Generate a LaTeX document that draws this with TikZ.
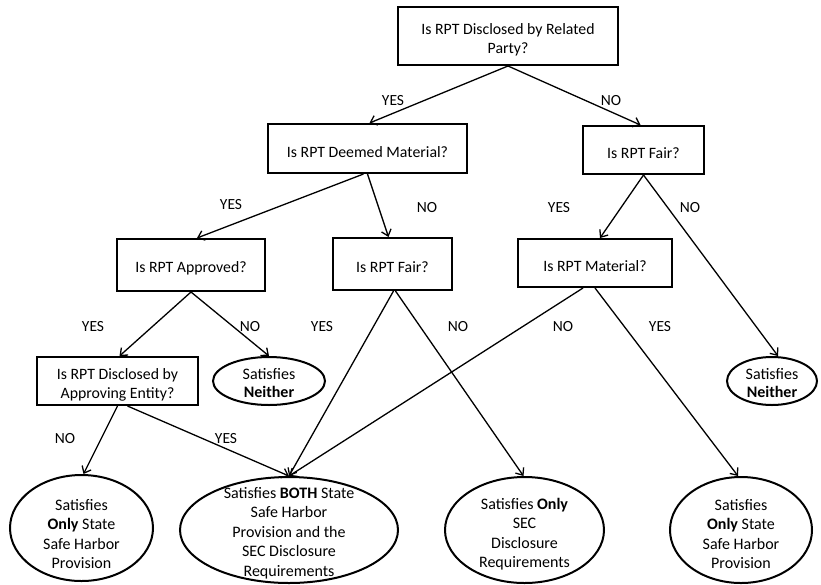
\documentclass[tikz,border=0pt]{standalone}
\usepackage{fontspec}
\setmainfont{Carlito}
\usetikzlibrary{arrows.meta,shapes.geometric}
\tikzset{
  qbox/.style={draw, line width=2pt, rectangle, inner sep=0pt},
  qtxt/.style={align=center, inner sep=0pt, font=\fontsize{15.8}{18.5}\selectfont},
  ell/.style={draw, line width=2pt, ellipse, inner sep=0pt},
  etxt/.style={align=center, inner sep=0pt, font=\fontsize{16}{19.5}\selectfont},
  conn/.style={line width=1.3pt, -{Straight Barb[length=6pt,width=10pt,line width=1.3pt]}},
  lbl/.style={inner sep=0pt, font=\fontsize{15.5}{17}\selectfont}
}
\begin{document}
\begin{tikzpicture}[x=1pt,y=-1pt]
\useasboundingbox (0,0) rectangle (821,584);
% question boxes
\node[qbox, minimum width=220pt, minimum height=58pt] (top) at (508,36) {};
\node[qtxt] (topt) at ([yshift=-4pt]top.center) {Is RPT Disclosed by Related\\Party?};
\node[qbox, minimum width=199pt, minimum height=49pt] (deemed) at (367.5,148.5) {};
\node[qtxt] (deemedt) at ([yshift=-4pt]deemed.center) {Is RPT Deemed Material?};
\node[qbox, minimum width=121pt, minimum height=48pt] (fairR) at (643.5,150) {};
\node[qtxt] (fairRt) at ([yshift=-3pt]fairR.center) {Is RPT Fair?};
\node[qbox, minimum width=148pt, minimum height=52pt] (approved) at (191,265) {};
\node[qtxt] (approvedt) at ([yshift=-3pt]approved.center) {Is RPT Approved?};
\node[qbox, minimum width=119pt, minimum height=52pt] (fairM) at (392.5,264) {};
\node[qtxt] (fairMt) at ([yshift=-3pt]fairM.center) {Is RPT Fair?};
\node[qbox, minimum width=154pt, minimum height=48pt] (material) at (595,263) {};
\node[qtxt] (materialt) at ([yshift=-3pt]material.center) {Is RPT Material?};
\node[qbox, minimum width=161pt, minimum height=48pt] (approving) at (117.5,381) {};
\node[qtxt] (approvingt) at ([yshift=-4pt]approving.center) {Is RPT Disclosed by\\Approving Entity?};
% outcome ellipses
\node[ell, minimum width=112pt, minimum height=48pt] (neitherL) at (269,381) {};
\node[etxt, font=\fontsize{16}{18}\selectfont] (neitherLt) at ([yshift=-2pt]neitherL.center) {Satisfies\\\textbf{Neither}};
\node[ell, minimum width=90pt, minimum height=48pt] (neitherR) at (772,381) {};
\node[etxt, font=\fontsize{16}{18}\selectfont] (neitherRt) at ([yshift=-2pt]neitherR.center) {Satisfies\\\textbf{Neither}};
\node[ell, minimum width=143pt, minimum height=106pt] (stateL) at (81.5,528) {};
\node[etxt] (stateLt) at ([yshift=-6pt]stateL.center) {Satisfies\\\textbf{Only} State\\Safe Harbor\\Provision};
\node[ell, minimum width=218pt, minimum height=106pt] (both) at (289,530) {};
\node[etxt] (botht) at ([yshift=-3pt]both.center) {Satisfies \textbf{BOTH} State\\Safe Harbor\\Provision and the\\SEC Disclosure\\Requirements};
\node[ell, minimum width=159pt, minimum height=106pt] (sec) at (524.5,530) {};
\node[etxt] (sect) at ([yshift=-4pt]sec.center) {Satisfies \textbf{Only}\\SEC\\Disclosure\\Requirements};
\node[ell, minimum width=142pt, minimum height=106pt] (stateR) at (741,530) {};
\node[etxt] (stateRt) at ([yshift=-4pt]stateR.center) {Satisfies\\\textbf{Only} State\\Safe Harbor\\Provision};
% connectors
\draw[conn] (top.south) -- ([xshift=2pt]deemed.north);
\draw[conn] (top.south) -- ([xshift=-3pt]fairR.north);
\draw[conn] ([xshift=-4pt]deemed.south) -- ([xshift=6pt]approved.north);
\draw[conn] (deemed.south) -- ([xshift=-4pt]fairM.north);
\draw[conn] (fairR.south) -- ([xshift=5pt]material.north);
\draw[conn] (fairR.south) -- ([xshift=6pt]neitherR.north);
\draw[conn] (approved.south) -- ([xshift=2pt]approving.north);
\draw[conn] (approved.south) -- (neitherL.north);
\draw[conn] ([xshift=1pt]fairM.south) -- (both.north);
\draw[conn] ([xshift=3pt]fairM.south) -- ([xshift=-1pt]sec.north);
\draw[conn] ([xshift=-12pt]material.south) -- (both.north);
\draw[conn] (material.south) -- ([xshift=-3pt]stateR.north);
\draw[conn] (approving.south) -- ([xshift=2pt]stateL.north);
\draw[conn] ([xshift=10pt]approving.south) -- (both.north);
% labels
\node[lbl] (l1) at (393,101) {YES};
\node[lbl] (l2) at (611,101) {NO};
\node[lbl] (l3) at (231,205) {YES};
\node[lbl] (l4) at (427,208) {NO};
\node[lbl] (l5) at (559,208) {YES};
\node[lbl] (l6) at (690,208) {NO};
\node[lbl] (l7) at (93,327) {YES};
\node[lbl] (l8) at (250,327) {NO};
\node[lbl] (l9) at (322,327) {YES};
\node[lbl] (l10) at (458,327) {NO};
\node[lbl] (l11) at (563,327) {NO};
\node[lbl] (l12) at (660,327) {YES};
\node[lbl] (l13) at (65,439) {NO};
\node[lbl] (l14) at (226,439) {YES};
\end{tikzpicture}
\end{document}
